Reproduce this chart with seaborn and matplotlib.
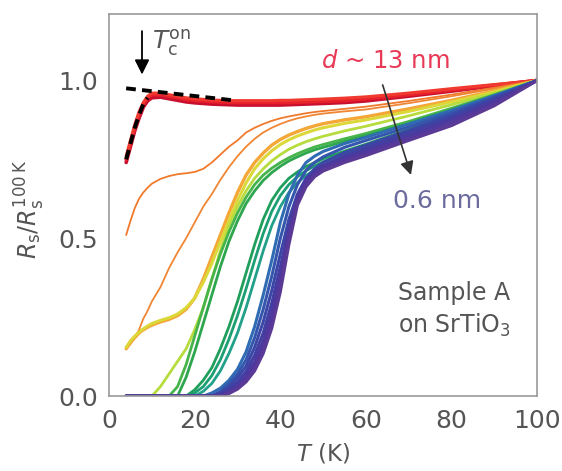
import matplotlib
matplotlib.use("Agg")
import matplotlib.pyplot as plt
import seaborn as sns
import pandas as pd

# Temperature grid (K) shared by all sheet-resistance curves
temps = [4, 5, 6, 7, 8, 9, 10, 12, 14, 16, 18, 20, 22, 24, 26, 28, 30, 32, 34, 36,
         38, 40, 42, 44, 46, 48, 50, 55, 60, 70, 80, 90, 100]

# Normalised sheet resistance R_s / R_s(100 K), thickest film first
red_a = [0.75, 0.80, 0.85, 0.89, 0.925, 0.945, 0.955, 0.955, 0.95, 0.945, 0.94, 0.937, 0.935, 0.933, 0.932, 0.931, 0.93,
         0.93, 0.93, 0.93, 0.93, 0.93, 0.93, 0.931, 0.932, 0.933, 0.934, 0.937, 0.942, 0.955, 0.97, 0.985, 1.0]
red_b = [0.74, 0.79, 0.84, 0.88, 0.915, 0.935, 0.945, 0.947, 0.942, 0.937, 0.932, 0.929, 0.927, 0.925, 0.924, 0.923, 0.922,
         0.922, 0.922, 0.922, 0.922, 0.922, 0.923, 0.924, 0.925, 0.926, 0.927, 0.93, 0.935, 0.95, 0.966, 0.983, 1.0]
red_c = [0.76, 0.81, 0.86, 0.90, 0.93, 0.95, 0.96, 0.96, 0.955, 0.95, 0.945, 0.942, 0.94, 0.938, 0.937, 0.936, 0.936,
         0.936, 0.936, 0.936, 0.936, 0.937, 0.937, 0.938, 0.939, 0.94, 0.941, 0.944, 0.948, 0.96, 0.974, 0.987, 1.0]
orange_a = [0.51, 0.555, 0.595, 0.625, 0.645, 0.66, 0.673, 0.688, 0.697, 0.703, 0.706, 0.71, 0.72, 0.74, 0.765, 0.79, 0.81,
            0.835, 0.85, 0.862, 0.872, 0.88, 0.886, 0.891, 0.896, 0.9, 0.903, 0.91, 0.917, 0.935, 0.955, 0.977, 1.0]
orange_b = [0.15, 0.165, 0.185, 0.21, 0.245, 0.27, 0.30, 0.345, 0.405, 0.455, 0.50, 0.55, 0.60, 0.64, 0.685, 0.725, 0.76,
            0.79, 0.815, 0.835, 0.85, 0.862, 0.872, 0.88, 0.886, 0.891, 0.895, 0.902, 0.908, 0.928, 0.95, 0.974, 1.0]
amber = [0.15, 0.17, 0.185, 0.2, 0.21, 0.218, 0.225, 0.235, 0.243, 0.255, 0.275, 0.31, 0.37, 0.44, 0.51, 0.58, 0.645,
         0.70, 0.74, 0.77, 0.795, 0.813, 0.827, 0.838, 0.848, 0.856, 0.863, 0.875, 0.885, 0.91, 0.937, 0.967, 1.0]
yellow = [0.155, 0.175, 0.19, 0.203, 0.213, 0.222, 0.23, 0.24, 0.248, 0.26, 0.28, 0.31, 0.36, 0.42, 0.49, 0.555, 0.62,
          0.675, 0.72, 0.752, 0.777, 0.797, 0.812, 0.824, 0.834, 0.843, 0.85, 0.864, 0.875, 0.902, 0.932, 0.964, 1.0]
lime = [0, 0, 0, 0, 0, 0, 0, 0.03, 0.07, 0.11, 0.15, 0.21, 0.28, 0.37, 0.46, 0.54, 0.60,
        0.65, 0.69, 0.72, 0.745, 0.765, 0.782, 0.795, 0.806, 0.815, 0.823, 0.84, 0.855, 0.888, 0.923, 0.96, 1.0]
green_a = [0, 0, 0, 0, 0, 0, 0, 0, 0, 0.03, 0.10, 0.19, 0.28, 0.37, 0.45, 0.52, 0.58,
           0.63, 0.67, 0.70, 0.722, 0.74, 0.755, 0.768, 0.779, 0.789, 0.797, 0.815, 0.832, 0.87, 0.912, 0.955, 1.0]
green_b = [0, 0, 0, 0, 0, 0, 0, 0, 0, 0, 0.06, 0.14, 0.23, 0.32, 0.41, 0.49, 0.555,
           0.61, 0.65, 0.683, 0.708, 0.728, 0.745, 0.758, 0.77, 0.78, 0.788, 0.807, 0.825, 0.864, 0.907, 0.952, 1.0]
teal_a = [0, 0, 0, 0, 0, 0, 0, 0, 0, 0, 0, 0.02, 0.05, 0.09, 0.15, 0.22, 0.30,
          0.39, 0.48, 0.56, 0.62, 0.66, 0.69, 0.71, 0.727, 0.74, 0.752, 0.776, 0.798, 0.845, 0.895, 0.947, 1.0]
teal_b = [0, 0, 0, 0, 0, 0, 0, 0, 0, 0, 0, 0.01, 0.03, 0.065, 0.115, 0.18, 0.255,
          0.34, 0.43, 0.515, 0.585, 0.635, 0.67, 0.695, 0.714, 0.729, 0.742, 0.768, 0.791, 0.84, 0.891, 0.945, 1.0]
teal_c = [0, 0, 0, 0, 0, 0, 0, 0, 0, 0, 0, 0, 0.015, 0.04, 0.08, 0.135, 0.2,
          0.28, 0.37, 0.46, 0.54, 0.6, 0.645, 0.676, 0.699, 0.716, 0.73, 0.758, 0.783, 0.834, 0.887, 0.943, 1.0]
blue_a = [0, 0, 0, 0, 0, 0, 0, 0, 0, 0, 0, 0, 0, 0.01, 0.025, 0.05, 0.085,
          0.14, 0.22, 0.32, 0.43, 0.55, 0.64, 0.70, 0.74, 0.76, 0.775, 0.80, 0.82, 0.862, 0.905, 0.952, 1.0]
blue_b = [0, 0, 0, 0, 0, 0, 0, 0, 0, 0, 0, 0, 0, 0, 0.015, 0.04, 0.07,
          0.115, 0.185, 0.275, 0.38, 0.50, 0.60, 0.67, 0.715, 0.74, 0.758, 0.788, 0.81, 0.853, 0.898, 0.948, 1.0]
blue_c = [0, 0, 0, 0, 0, 0, 0, 0, 0, 0, 0, 0, 0, 0, 0.01, 0.03, 0.058,
          0.095, 0.155, 0.235, 0.335, 0.45, 0.56, 0.64, 0.69, 0.72, 0.74, 0.772, 0.795, 0.842, 0.89, 0.944, 1.0]
indigo_a = [0, 0, 0, 0, 0, 0, 0, 0, 0, 0, 0, 0, 0, 0, 0.008, 0.022, 0.045,
            0.078, 0.13, 0.2, 0.295, 0.41, 0.53, 0.625, 0.678, 0.708, 0.73, 0.762, 0.786, 0.835, 0.882, 0.938, 1.0]
indigo_b = [0, 0, 0, 0, 0, 0, 0, 0, 0, 0, 0, 0, 0, 0, 0, 0.015, 0.035,
            0.065, 0.11, 0.175, 0.265, 0.39, 0.53, 0.635, 0.685, 0.712, 0.73, 0.755, 0.778, 0.826, 0.875, 0.933, 1.0]
purple_a = [0, 0, 0, 0, 0, 0, 0, 0, 0, 0, 0, 0, 0, 0, 0, 0.01, 0.028,
            0.055, 0.095, 0.155, 0.24, 0.36, 0.505, 0.62, 0.675, 0.703, 0.722, 0.748, 0.77, 0.818, 0.866, 0.927, 1.0]
purple_b = [0, 0, 0, 0, 0, 0, 0, 0, 0, 0, 0, 0, 0, 0, 0, 0.008, 0.022,
            0.045, 0.08, 0.135, 0.215, 0.33, 0.48, 0.605, 0.663, 0.695, 0.713, 0.74, 0.762, 0.81, 0.857, 0.92, 1.0]

curves = [red_b, red_a, red_c, orange_a, orange_b, amber, yellow, lime, green_a, green_b,
          teal_a, teal_b, teal_c, blue_a, blue_b, blue_c, indigo_a, indigo_b, purple_a, purple_b]
colors = ["#c8102e", "#e8202c", "#f03a30", "#f07a2c", "#f08634", "#f4a636", "#dcd83a", "#b6dc3e", "#46b44a", "#2ea64e",
          "#1f9e5c", "#1c9f72", "#22a08a", "#2f6cb4", "#3456ac", "#3a47a6", "#4140a2", "#4a3a9f", "#52389c", "#5b3a96"]
widths = [2.6, 2.6, 2.2, 1.3, 1.3, 2.4, 2.2, 2.0, 2.0, 2.0,
          2.0, 2.0, 2.0, 2.2, 2.2, 2.2, 2.2, 2.2, 2.2, 2.2]

# Normal-state extrapolation used to define the onset temperature
onset_t = [4, 29]
onset_r = [0.975, 0.937]
onset_arrow_t = 7.7

sns.set_theme(style="white")
plt.rcParams["font.family"] = ["DejaVu Sans"]
plt.rcParams["mathtext.fontset"] = "dejavusans"

text_gray = "#555555"
fig = plt.figure(figsize=(5.62, 4.71), dpi=100)
ax = fig.add_axes([0.194, 0.159, 0.762, 0.811])

for r, c, lw in zip(curves, colors, widths):
    df = pd.DataFrame({"T": temps, "R": r})
    sns.lineplot(data=df, x="T", y="R", ax=ax, color=c, lw=lw, sort=False,
                 estimator=None, solid_capstyle="round")

# black dashed guides: along the low-T upturn and the normal-state extrapolation
ax.plot(temps[:6], red_a[:6], color="black", lw=2.8, dashes=(2.5, 1.6))
ax.plot(onset_t, onset_r, color="black", lw=2.8, dashes=(2.5, 1.6))

ax.annotate("", xy=(onset_arrow_t, 1.01), xytext=(onset_arrow_t, 1.165),
            arrowprops=dict(arrowstyle="-|>", color="black", lw=1.3, mutation_scale=22))
ax.text(10.1, 1.10, r"$T_\mathrm{c}^\mathrm{on}$", fontsize=18, color=text_gray, ha="left", va="baseline")

ax.text(49.6, 1.038, r"$d$ ~ 13 nm", fontsize=17.5, color="#e83a56", ha="left", va="baseline")
ax.annotate("", xy=(70.7, 0.692), xytext=(63.7, 0.994),
            arrowprops=dict(arrowstyle="-|>", color="#333333", lw=1.2, mutation_scale=20))
ax.text(66.3, 0.597, "0.6 nm", fontsize=18, color="#6b6b9e", ha="left", va="baseline")

ax.text(67.4, 0.2, "Sample A\non SrTiO$_3$", fontsize=17, color=text_gray, ha="left",
        va="baseline", linespacing=1.35)

ax.set_xlim(0, 100)
ax.set_ylim(0, 1.21)
ax.set_xticks([0, 20, 40, 60, 80, 100])
ax.set_xticks([10, 30, 50, 70, 90], minor=True)
ax.set_yticks([0.0, 0.5, 1.0])
ax.set_yticks([0.25, 0.75], minor=True)
ax.set_yticklabels(["0.0", "0.5", "1.0"])
ax.tick_params(which="both", direction="in", length=4, width=1, color="#888888",
               labelsize=18, labelcolor=text_gray)
ax.tick_params(axis="x", which="major", pad=9)
ax.tick_params(axis="y", which="major", pad=8)

for s in ax.spines.values():
    s.set_color("#9a9a9a")
    s.set_linewidth(1.2)

ax.set_xlabel(r"$T$ (K)", fontsize=16.5, color=text_gray)
ax.set_ylabel(r"$R_\mathrm{s}/R_\mathrm{s}^{100\,\mathrm{K}}$", fontsize=17, color=text_gray)
ax.xaxis.set_label_coords(0.5, -0.12)
ax.yaxis.set_label_coords(-0.145, 0.49)

fig.savefig("out.png", dpi=100)
